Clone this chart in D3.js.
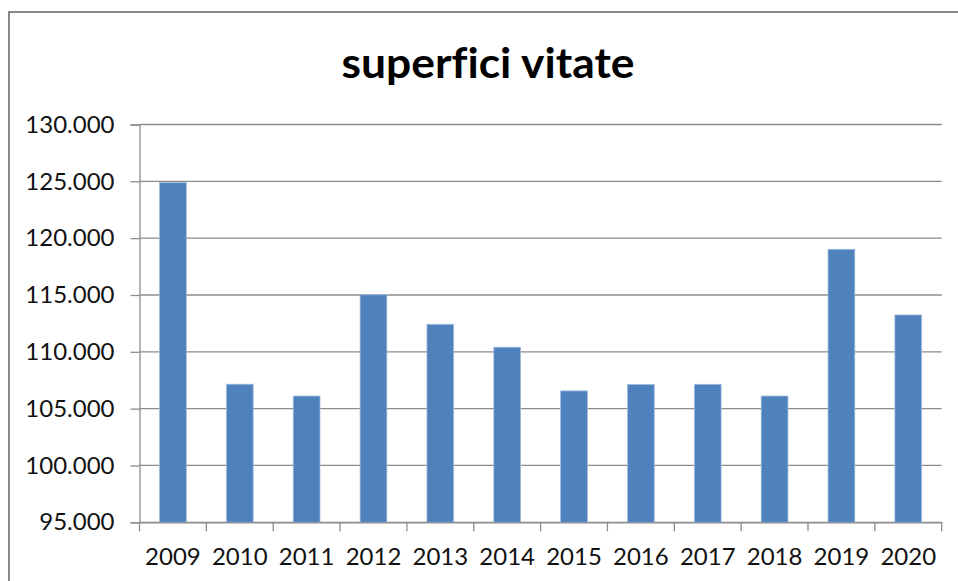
<!DOCTYPE html>
<html>
<head>
<meta charset="utf-8">
<script src="https://cdn.jsdelivr.net/npm/d3@7"></script>
<style>
  html, body { margin: 0; padding: 0; background: #fff; }
  svg { display: block; }
  text { font-variant-ligatures: none; font-feature-settings: "liga" 0; }
</style>
</head>
<body>
<svg id="chart" width="958" height="581"></svg>
<script>
const title = "superfici vitate";
const years = ["2009","2010","2011","2012","2013","2014","2015","2016","2017","2018","2019","2020"];
const values = [124880, 107150, 106110, 115020, 112420, 110400, 106560, 107120, 107140, 106110, 119020, 113240];
const yTicks = [95000, 100000, 105000, 110000, 115000, 120000, 125000, 130000];

(function () {
const svg = d3.select("#chart");
const pLeft = 139.5, pRight = 941.7, pTop = 124.5, pBottom = 522.3;

const locale = d3.formatLocale({decimal: ",", thousands: ".", grouping: [3], currency: ["€", ""]});
const fmt = locale.format(",");

const x = d3.scaleBand().domain(years).range([pLeft, pRight]).paddingInner(0.6).paddingOuter(0.3);
const y = d3.scaleLinear().domain([95000, 130000]).range([pBottom, pTop]);

// outer border
svg.append("rect")
  .attr("x", 9).attr("y", 12).attr("width", 980).attr("height", 600)
  .attr("fill", "#fff").attr("stroke", "#888").attr("stroke-width", 2);

// title
svg.append("text")
  .attr("x", 488).attr("y", 78)
  .attr("text-anchor", "middle")
  .attr("font-family", "Lato, 'Open Sans', sans-serif")
  .attr("font-weight", "bold")
  .attr("font-size", 42)
  .attr("textLength", 293)
  .attr("lengthAdjust", "spacingAndGlyphs")
  .attr("fill", "#000")
  .text(title);

// gridlines
svg.append("g")
  .selectAll("line")
  .data(yTicks)
  .join("line")
  .attr("x1", pLeft).attr("x2", pRight)
  .attr("y1", d => y(d)).attr("y2", d => y(d))
  .attr("stroke", "#8c8c8c").attr("stroke-width", 1.3);

// bars
svg.append("g")
  .selectAll("rect")
  .data(years.map((yr, i) => ({yr, v: values[i]})))
  .join("rect")
  .attr("x", d => x(d.yr))
  .attr("y", d => y(d.v))
  .attr("width", x.bandwidth())
  .attr("height", d => pBottom - y(d.v))
  .attr("fill", "#4F81BD")
  .attr("stroke", "#9fbadc")
  .attr("stroke-width", 0.8);

// y axis
const yAxis = d3.axisLeft(y).tickValues(yTicks).tickFormat(fmt).tickSize(9).tickPadding(16);
const gy = svg.append("g").attr("transform", `translate(${pLeft},0)`).call(yAxis);
gy.select(".domain").attr("stroke", "#8c8c8c").attr("stroke-width", 1.3);
gy.selectAll(".tick line").attr("stroke", "#8c8c8c").attr("stroke-width", 1.3);
gy.selectAll(".tick text")
  .attr("font-family", "Lato, 'Open Sans', sans-serif")
  .attr("font-size", 24)
  .attr("fill", "#111");

// x axis: ticks at category boundaries
const xAxis = d3.axisBottom(x).tickSize(0).tickPadding(26);
const gx = svg.append("g").attr("transform", `translate(0,${pBottom})`).call(xAxis);
gx.select(".domain").attr("stroke", "#8c8c8c").attr("stroke-width", 1.3);
gx.selectAll(".tick text")
  .attr("font-family", "Lato, 'Open Sans', sans-serif")
  .attr("font-size", 24)
  .attr("fill", "#111");

const step = x.step();
const bounds = d3.range(years.length + 1).map(i => pLeft + i * step);
svg.append("g")
  .selectAll("line")
  .data(bounds)
  .join("line")
  .attr("x1", d => d).attr("x2", d => d)
  .attr("y1", pBottom).attr("y2", pBottom + 9)
  .attr("stroke", "#8c8c8c").attr("stroke-width", 1.3);
})();
</script>
</body>
</html>
